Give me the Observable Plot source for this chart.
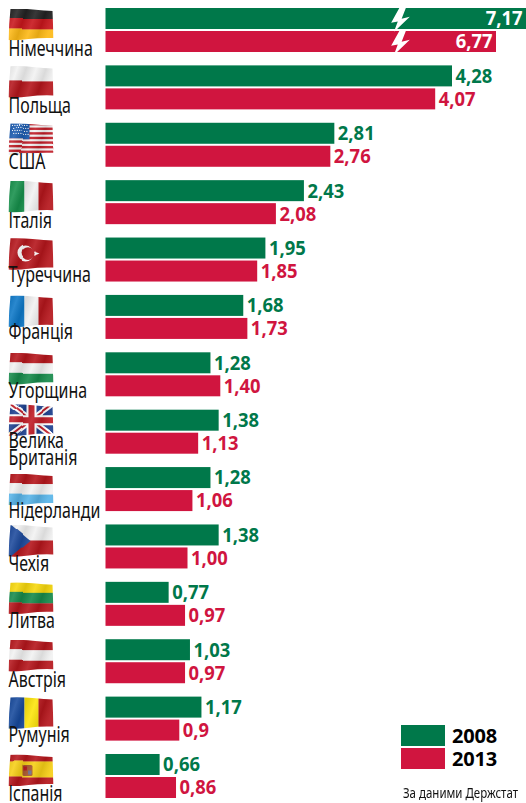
<!DOCTYPE html>
<html><head><meta charset="utf-8">
<script src="https://cdn.jsdelivr.net/npm/d3@7"></script>
<script src="https://cdn.jsdelivr.net/npm/@observablehq/plot@0.6"></script>
<style>
html,body{margin:0;padding:0;background:#fff;overflow:hidden;width:526px;height:803px}
#wrap{position:relative;width:526px;height:803px;overflow:hidden}
#wrap svg{display:block;position:absolute;left:0;top:0}
.sw{position:absolute;left:401px;width:44px;height:21px}
.lg{position:absolute;left:452px;font:bold 20px "Noto Sans",sans-serif;color:#000;line-height:21px;letter-spacing:-.2px}
.cap{position:absolute;left:403px;top:783px;font:14px "Noto Sans",sans-serif;color:#111;white-space:nowrap;transform-origin:left center;transform:scaleX(.82)}
</style></head><body><div id="wrap"></div>
<script>
const countries = ["Німеччина","Польща","США","Італія","Туреччина","Франція","Угорщина","Велика\nБританія","Нідерланди","Чехія","Литва","Австрія","Румунія","Іспанія"];
const years = [2008, 2013];
const values2008 = [7.17,4.28,2.81,2.43,1.95,1.68,1.28,1.38,1.28,1.38,0.77,1.03,1.17,0.66];
const values2013 = [6.77,4.07,2.76,2.08,1.85,1.73,1.40,1.13,1.06,1.00,0.97,0.97,0.9,0.86];
const labels2008 = ["7,17","4,28","2,81","2,43","1,95","1,68","1,28","1,38","1,28","1,38","0,77","1,03","1,17","0,66"];
const labels2013 = ["6,77","4,07","2,76","2,08","1,85","1,73","1,40","1,13","1,06","1,00","0,97","0,97","0,9","0,86"];
const colors = {2008:"#00784a",2013:"#d0153f"};
const labelBaseline = [47,47,46,47,44,44,45,55,50,46,46,47,45,47];
const flagShift = [0,0,0,0,0,0,0,-6,6,0,0,0,0,0];

const rows = countries.flatMap((c,i)=>[
  {country:c,year:2008,value:values2008[i],label:labels2008[i]},
  {country:c,year:2013,value:values2013[i],label:labels2013[i]}
]);

// flag artwork
const R="#b5171f",W="#f2f2f2";
const hb=(a,ys)=>a.map((c,i)=>`<rect x="-6" y="${ys[i]}" width="58" height="${ys[i+1]-ys[i]+.3}" fill="${c}"/>`).join("");
const vs=(a)=>a.map((c,i)=>`<rect x="${i==0?-6:2+14*i}" y="-6" width="${i==0?22:i==a.length-1?30:14.3}" height="44" fill="${c}"/>`).join("");
const s3=[-6,10.5,21,38];
let usa=`<rect x="-6" y="-6" width="58" height="44" fill="${W}"/>`;
for(let i=0;i<7;i++)usa+=`<rect x="-6" y="${i*4.6-.3}" width="58" height="2.4" fill="#c01c28"/>`;
usa+=`<rect x="-6" y="-6" width="27" height="22" fill="#1c5cb0"/>`;
for(let j=0;j<4;j++)for(let i=0;i<7;i++)usa+=`<circle cx="${4+i*2.4+(j%2)*1.2}" cy="${2.2+j*3}" r=".6" fill="#fff"/>`;
const flags={
 "Німеччина":hb(["#222","#c8191e","#fdb913"],[-6,10.5,21,38]),
 "Польща":hb([W,R],[-6,15.5,38]),
 "США":usa,
 "Італія":vs(["#16904c",W,R]),
 "Туреччина":`<rect x="-6" y="-6" width="58" height="44" fill="${R}"/><circle cx="17" cy="15.5" r="8" fill="#fff"/><circle cx="19.5" cy="15.5" r="6.4" fill="${R}"/><polygon points="31,15.5 25.5,17.6 27,12.5 27,18.5 25.5,13.5" fill="#fff"/>`,
 "Франція":vs(["#0a78c8",W,R]),
 "Угорщина":hb([R,W,"#128a4b"],s3),
 "Велика\nБританія":`<rect x="-6" y="-6" width="58" height="44" fill="#1f3f8f"/><path d="M-6,-6L52,38M52,-6L-6,38" stroke="#fff" stroke-width="6"/><path d="M-6,-6L52,38M52,-6L-6,38" stroke="#c01c28" stroke-width="2"/><path d="M23,-6V38M-6,16H52" stroke="#fff" stroke-width="10"/><path d="M23,-6V38M-6,16H52" stroke="#c01c28" stroke-width="6"/>`,
 "Нідерланди":hb([R,W,"#58b4e8"],s3),
 "Чехія":hb([W,R],[-6,15.5,38])+`<polygon points="-6,-6 -2,-4 22,16 -2,36 -6,38" fill="#1c4a9c"/>`,
 "Литва":hb(["#f7d80f","#128a4b",R],s3),
 "Австрія":hb([R,W,R],s3),
 "Румунія":vs(["#174a9c","#fde50a",R]),
 "Іспанія":hb([R,"#f7cf12",R],[-6,7,23,38])+`<rect x="14" y="10.5" width="10" height="11" rx="1.5" fill="#a8552c"/><rect x="15" y="12" width="3.5" height="4" fill="#b5171f"/><rect x="19.5" y="16" width="3.5" height="4" fill="#6a6a8a"/>`
};
const flagUri=(body)=>"data:image/svg+xml,"+encodeURIComponent(
`<svg xmlns="http://www.w3.org/2000/svg" width="135" height="96" viewBox="0 0 45 32"><defs>
<filter id="w" filterUnits="userSpaceOnUse" x="-8" y="-8" width="62" height="48"><feTurbulence type="fractalNoise" baseFrequency="0.035 0.02" numOctaves="1" seed="4"/><feDisplacementMap in="SourceGraphic" scale="4" xChannelSelector="G" yChannelSelector="R"/></filter>
<linearGradient id="s" x1="0" y1="0" x2="1" y2=".25">
<stop offset="0" stop-color="#000" stop-opacity=".08"/><stop offset=".22" stop-color="#fff" stop-opacity=".12"/><stop offset=".4" stop-color="#000" stop-opacity=".1"/><stop offset=".6" stop-color="#fff" stop-opacity=".1"/><stop offset=".8" stop-color="#000" stop-opacity=".1"/><stop offset="1" stop-color="#fff" stop-opacity=".08"/></linearGradient>
<clipPath id="c"><path d="M2,0.3Q12,-.3 24,1T44,2.5L45,29.5Q31,29 20,30.6T0,31.4Q.5,15 2,.3Z"/></clipPath></defs>
<g clip-path="url(#c)"><g filter="url(#w)">${body}</g><rect x="-1" y="-1" width="47" height="34" fill="url(#s)"/></g></svg>`);
const boltUri="data:image/svg+xml,"+encodeURIComponent(`<svg xmlns="http://www.w3.org/2000/svg" width="18" height="21" viewBox="0 0 18 21" preserveAspectRatio="none"><polygon points="9,-.5 1,13.7 6.7,12.7 3.3,21.5 17,8.7 10,10.3 14.3,-.5" fill="#fff"/></svg>`);

const chart = Plot.plot({
  width:526, height:803, marginLeft:0, marginRight:0, marginTop:8, marginBottom:5,
  style:{background:"transparent",overflow:"hidden"},
  x:{type:"linear",domain:[0,2,4.28,6.77,7.17],range:[105.5,269.5,452,496,526],axis:null},
  y:{type:"band",domain:years,paddingInner:2/23,paddingOuter:0,round:false,axis:null},
  fy:{domain:countries,paddingInner:13.38/57.38,paddingOuter:0,round:false,axis:null,label:null},
  color:{domain:years,range:years.map(y=>colors[y])},
  marks:[
    ...countries.map((c,i)=>Plot.image([c],{fy:d=>d,src:d=>flagUri(flags[d]),frameAnchor:"top-left",width:45,height:32,dx:30.5,dy:16+flagShift[i]})),
    ...countries.map((c,i)=>Plot.text([c],{fy:d=>d,text:d=>d,className:"country",frameAnchor:"top-left",textAnchor:"start",lineAnchor:"bottom",dx:8,dy:labelBaseline[i],lineHeight:0.82,fontSize:21,fontFamily:"'Noto Sans',sans-serif",fill:"#111"})),
    Plot.barX(rows,{x:"value",y:"year",fy:"country",fill:"year"}),
    Plot.image(rows.filter(d=>d.country===countries[0]),{x:()=>3.63,y:"year",fy:"country",src:()=>boltUri,width:21,height:25}),
    Plot.text(rows.filter(d=>d.country!==countries[0]),{x:"value",y:"year",fy:"country",text:"label",textAnchor:"start",dx:3,fill:"year",fontSize:20,fontWeight:700,fontFamily:"'Noto Sans',sans-serif",className:"val"}),
    Plot.text(rows.filter(d=>d.country===countries[0]),{x:"value",y:"year",fy:"country",text:"label",textAnchor:"end",dx:-4,fill:"#fff",fontSize:20,fontWeight:700,fontFamily:"'Noto Sans',sans-serif",className:"val"})
  ]
});
const wrap=document.getElementById("wrap");
wrap.appendChild(chart);
// the reference's type is condensed; no condensed family is installed, so squeeze the glyphs
const squeeze=(sel,k)=>chart.querySelectorAll(sel).forEach(t=>{
  const ts=t.querySelectorAll("tspan");
  (ts.length?[...ts]:[t]).forEach(e=>{
    e.setAttribute("textLength",e.getComputedTextLength()*k);
    e.setAttribute("lengthAdjust","spacingAndGlyphs");
  });
});
squeeze(".country text",0.76);
squeeze(".val text",0.92);
years.forEach((y,i)=>{
  const s=document.createElement("div");s.className="sw";s.style.top=(725+23*i)+"px";s.style.background=colors[y];wrap.appendChild(s);
  const t=document.createElement("div");t.className="lg";t.style.top=(725+23*i)+"px";t.textContent=y;wrap.appendChild(t);
});
const cap=document.createElement("div");cap.className="cap";cap.textContent="За даними Держстат";wrap.appendChild(cap);
</script></body></html>
